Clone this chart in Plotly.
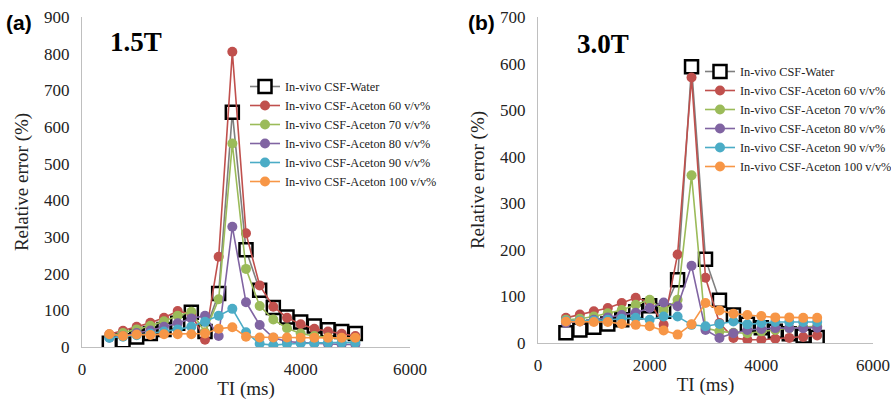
import plotly.graph_objects as go

TI = [500, 750, 1000, 1250, 1500, 1750, 2000, 2250, 2500, 2750, 3000, 3250, 3500, 3750, 4000, 4250, 4500, 4750, 5000]

# 1.5T panel
water_15 = [10, 17, 27, 37, 48, 65, 95, 42, 146, 640, 265, 155, 108, 82, 68, 57, 47, 42, 37]
ac60_15 = [35, 44, 55, 66, 80, 98, 90, 20, 246, 805, 310, 168, 110, 80, 62, 50, 42, 36, 30]
ac70_15 = [30, 38, 48, 58, 70, 85, 96, 40, 130, 555, 213, 112, 75, 51, 37, 30, 26, 23, 21]
ac80_15 = [25, 30, 38, 45, 55, 65, 78, 85, 30, 328, 122, 60, 25, 15, 12, 10, 8, 7, 7]
ac90_15 = [25, 28, 32, 37, 42, 48, 55, 69, 85, 104, 40, 9, 5, 8, 10, 10, 12, 12, 12]
ac100_15 = [35, 30, 34, 33, 35, 35, 35, 37, 50, 54, 28, 26, 26, 26, 25, 25, 25, 25, 25]

# 3.0T panel
water_30 = [22, 28, 34, 41, 50, 67, 80, 68, 136, 593, 180, 92, 60, 40, 33, 25, 20, 15, 12]
ac60_30 = [54, 61, 68, 75, 86, 97, 88, 39, 190, 570, 140, 43, 11, 7, 7, 9, 11, 13, 16]
ac70_30 = [50, 52, 57, 64, 71, 82, 93, 70, 93, 360, 32, 25, 22, 21, 25, 28, 32, 34, 36]
ac80_30 = [43, 46, 50, 55, 60, 65, 75, 87, 79, 166, 28, 11, 21, 28, 30, 32, 32, 32, 33]
ac90_30 = [48, 48, 48, 50, 52, 54, 50, 57, 57, 39, 36, 41, 46, 40, 43, 45, 45, 45, 45]
ac100_30 = [46, 46, 45, 45, 41, 39, 36, 27, 18, 40, 86, 70, 63, 60, 58, 55, 55, 54, 54]

names = ["In-vivo CSF-Water", "In-vivo CSF-Aceton 60 v/v%", "In-vivo CSF-Aceton 70 v/v%",
         "In-vivo CSF-Aceton 80 v/v%", "In-vivo CSF-Aceton 90 v/v%", "In-vivo CSF-Aceton 100 v/v%"]
colors = ["#7f7f7f", "#C0504D", "#9BBB59", "#8064A2", "#4BACC6", "#F79646"]

panel_15 = [water_15, ac60_15, ac70_15, ac80_15, ac90_15, ac100_15]
panel_30 = [water_30, ac60_30, ac70_30, ac80_30, ac90_30, ac100_30]

fig = go.Figure()

SERIF = "Liberation Serif"

def add_panel(series, xa, ya, legend):
    for i, (vals, nm, col) in enumerate(zip(series, names, colors)):
        if i == 0:
            marker = dict(symbol="square", size=13, color="white",
                          line=dict(color="black", width=2.5))
        else:
            marker = dict(symbol="circle", size=10, color=col, line=dict(width=0))
        fig.add_trace(go.Scatter(
            x=TI, y=vals, name=nm, mode="lines+markers",
            line=dict(color=col, width=1.6), marker=marker,
            xaxis=xa, yaxis=ya, legend=legend, showlegend=True))

add_panel(panel_15, "x", "y", "legend")
add_panel(panel_30, "x2", "y2", "legend2")

axis_common = dict(showgrid=False, zeroline=False, showline=True, linecolor="#bfbfbf",
                   linewidth=1.3, ticks="", automargin=False,
                   tickfont=dict(family=SERIF, size=17, color="#222"),
                   title_font=dict(family=SERIF, size=19, color="#222"))

fig.update_layout(
    width=891, height=405, margin=dict(l=0, r=0, t=0, b=0, autoexpand=False),
    plot_bgcolor="white", paper_bgcolor="white",
    xaxis=dict(domain=[82/891, 410/891], range=[0, 6000], tickvals=[0, 2000, 4000, 6000],
               title=dict(text="TI (ms)", standoff=4), anchor="y", ticklabelstandoff=6, **axis_common),
    yaxis=dict(domain=[(405-347)/405, (405-17)/405], range=[0, 900], dtick=100,
               title=dict(text="Relative error (%)", standoff=10), anchor="x", ticklabelstandoff=8, **axis_common),
    xaxis2=dict(domain=[538/891, 873/891], range=[0, 6000], tickvals=[0, 2000, 4000, 6000],
                title=dict(text="TI (ms)", standoff=4), anchor="y2", ticklabelstandoff=6, **axis_common),
    yaxis2=dict(domain=[(405-343)/405, (405-17)/405], range=[0, 700], dtick=100,
                title=dict(text="Relative error (%)", standoff=10), anchor="x2", ticklabelstandoff=8, **axis_common),
    legend=dict(x=245/891, y=1-72/405, xanchor="left", yanchor="top", bgcolor="rgba(0,0,0,0)",
                font=dict(family=SERIF, size=12.3, color="#222"), tracegroupgap=0, itemsizing="trace"),
    legend2=dict(x=700/891, y=1-57/405, xanchor="left", yanchor="top", bgcolor="rgba(0,0,0,0)",
                 font=dict(family=SERIF, size=12.3, color="#222"), tracegroupgap=0, itemsizing="trace"),
    showlegend=True,
)

fig.add_annotation(text="<b>(a)</b>", x=4/891, y=1-22/405, xref="paper", yref="paper",
                   xanchor="left", yanchor="middle", showarrow=False,
                   font=dict(family="Liberation Sans", size=21, color="black"))
fig.add_annotation(text="<b>(b)</b>", x=466/891, y=1-22/405, xref="paper", yref="paper",
                   xanchor="left", yanchor="middle", showarrow=False,
                   font=dict(family="Liberation Sans", size=21, color="black"))
fig.add_annotation(text="<b>1.5T</b>", x=108/891, y=1-42/405, xref="paper", yref="paper",
                   xanchor="left", yanchor="middle", showarrow=False,
                   font=dict(family=SERIF, size=27, color="black"))
fig.add_annotation(text="<b>3.0T</b>", x=575/891, y=1-44/405, xref="paper", yref="paper",
                   xanchor="left", yanchor="middle", showarrow=False,
                   font=dict(family=SERIF, size=27, color="black"))

fig.write_html("out.html")
